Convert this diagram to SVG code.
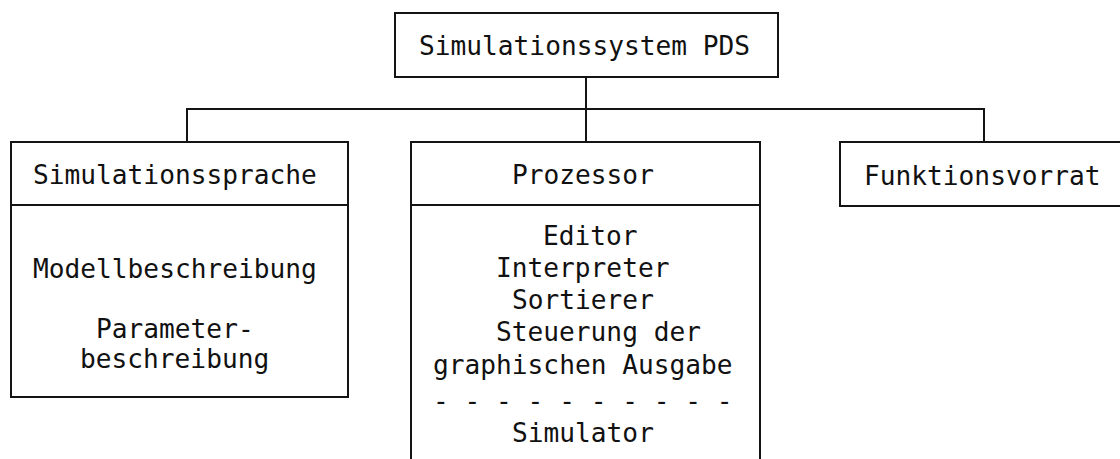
<svg xmlns="http://www.w3.org/2000/svg" width="1120" height="459" viewBox="0 0 1120 459">
  <style>
    .box { fill: #ffffff; stroke: #141414; stroke-width: 2; }
    .rule { fill: none; stroke: #141414; stroke-width: 2; }
    .wire { fill: none; stroke: #141414; stroke-width: 2; }
    text { font-family: "DejaVu Sans Mono", "Liberation Mono", monospace; font-size: 26.2px; fill: #111111; }
  </style>
  <rect width="1120" height="459" fill="#ffffff"/>

  <!-- tree connectors -->
  <g id="connectors">
    <line class="wire" x1="586" y1="77" x2="586" y2="142"/>
    <polyline class="wire" points="187,142 187,109 984,109 984,142"/>
  </g>

  <!-- root -->
  <g id="node-root">
    <rect class="box" x="395" y="13" width="383" height="64"/>
    <text x="419" y="55">Simulationssystem PDS</text>
  </g>

  <!-- language -->
  <g id="node-sprache">
    <rect class="box" x="11" y="142" width="337" height="255"/>
    <line class="rule" x1="11" y1="205" x2="348" y2="205"/>
    <text x="33" y="184">Simulationssprache</text>
    <text x="33" y="278">Modellbeschreibung</text>
    <text x="96" y="338">Parameter-</text>
    <text x="80" y="368">beschreibung</text>
  </g>

  <!-- processor (open at the bottom) -->
  <g id="node-prozessor">
    <path class="rule" d="M411,462 V142 H760 V462"/>
    <line class="rule" x1="411" y1="205" x2="760" y2="205"/>
    <text x="512" y="184">Prozessor</text>
    <text x="543" y="245">Editor</text>
    <text x="496" y="277">Interpreter</text>
    <text x="512" y="309">Sortierer</text>
    <text x="496" y="341">Steuerung der</text>
    <text x="433" y="374">graphischen Ausgabe</text>
    <text x="433" y="410">- - - - - - - - - -</text>
    <text x="512" y="442">Simulator</text>
  </g>

  <!-- function library (runs past the right edge) -->
  <g id="node-funktionsvorrat">
    <path class="rule" d="M1124,142 H840 V206 H1124"/>
    <text x="864" y="185">Funktionsvorrat</text>
  </g>
</svg>
